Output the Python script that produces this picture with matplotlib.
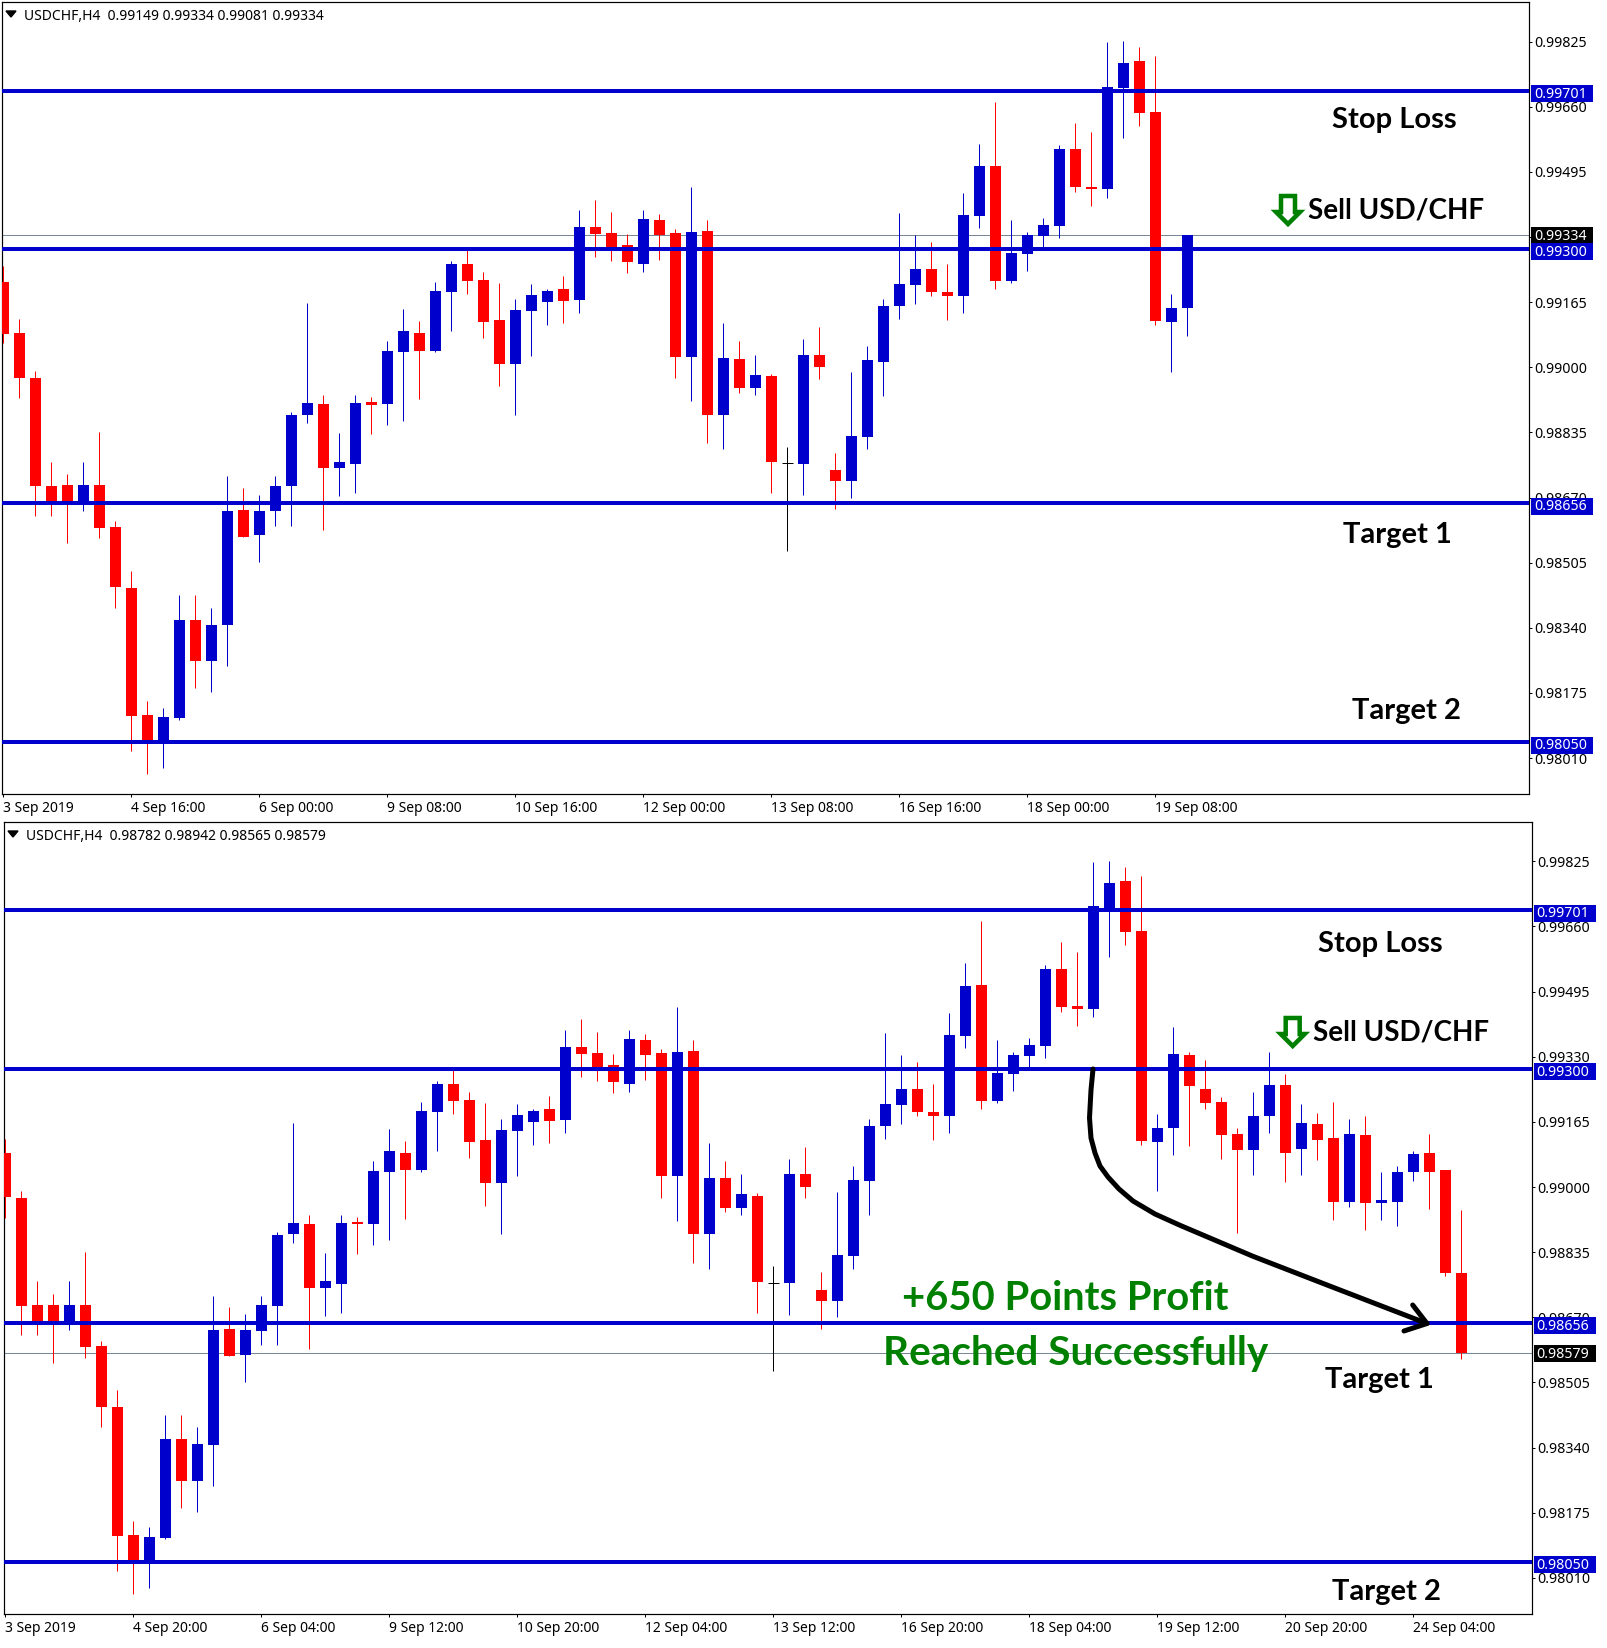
import matplotlib
matplotlib.use('Agg')
import matplotlib.pyplot as plt
from matplotlib.patches import Rectangle, Polygon

W, H = 1608, 1648

# USDCHF H4 bars
opens = [0.99216, 0.99087, 0.98973, 0.98700, 0.98702, 0.98656, 0.98702, 0.98596, 0.98442, 0.98118,
         0.98052, 0.98111, 0.98361, 0.98256, 0.98347, 0.98639, 0.98574, 0.98635, 0.98698, 0.98880,
         0.98907, 0.98744, 0.98754, 0.98912, 0.98906, 0.99039, 0.99087, 0.99042, 0.99191, 0.99261,
         0.99221, 0.99120, 0.99009, 0.99143, 0.99165, 0.99198, 0.99170, 0.99355, 0.99340, 0.99309,
         0.99261, 0.99372, 0.99340, 0.99027, 0.99345, 0.98880, 0.99022, 0.98948, 0.98978, 0.98758,
         0.98756, 0.99032, 0.98739, 0.98711, 0.98824, 0.99014, 0.99155, 0.99208, 0.99249, 0.99191,
         0.99181, 0.99383, 0.99511, 0.99218, 0.99287, 0.99332, 0.99357, 0.99552, 0.99458, 0.99451,
         0.99708, 0.99776, 0.99648, 0.99115, 0.99149, 0.99335, 0.99249, 0.99216, 0.99135, 0.99093,
         0.99179, 0.99259, 0.99096, 0.99160, 0.99123, 0.98962, 0.99132, 0.98959, 0.98962, 0.99039,
         0.99087, 0.99042, 0.98782]
highs = [0.99256, 0.99122, 0.98991, 0.98761, 0.98730, 0.98761, 0.98836, 0.98611, 0.98485, 0.98154,
         0.98138, 0.98422, 0.98422, 0.98391, 0.98725, 0.98695, 0.98677, 0.98725, 0.98887, 0.99163,
         0.98930, 0.98834, 0.98930, 0.98925, 0.99067, 0.99148, 0.99117, 0.99216, 0.99269, 0.99300,
         0.99241, 0.99213, 0.99173, 0.99211, 0.99198, 0.99231, 0.99398, 0.99425, 0.99393, 0.99337,
         0.99398, 0.99388, 0.99350, 0.99456, 0.99372, 0.99112, 0.99067, 0.99032, 0.98984, 0.98799,
         0.99072, 0.99102, 0.98784, 0.98988, 0.99054, 0.99173, 0.99390, 0.99335, 0.99317, 0.99261,
         0.99441, 0.99567, 0.99673, 0.99372, 0.99342, 0.99377, 0.99562, 0.99620, 0.99595, 0.99824,
         0.99827, 0.99812, 0.99789, 0.99186, 0.99405, 0.99342, 0.99322, 0.99229, 0.99150, 0.99241,
         0.99341, 0.99287, 0.99210, 0.99188, 0.99216, 0.99173, 0.99181, 0.99039, 0.99052, 0.99092,
         0.99135, 0.99044, 0.98942]
lows = [0.99061, 0.98921, 0.98624, 0.98624, 0.98554, 0.98637, 0.98567, 0.98391, 0.98027, 0.97969,
        0.97984, 0.98107, 0.98187, 0.98177, 0.98243, 0.98571, 0.98506, 0.98599, 0.98599, 0.98858,
        0.98589, 0.98673, 0.98682, 0.98831, 0.98854, 0.98865, 0.98920, 0.99039, 0.99092, 0.99186,
        0.99074, 0.98953, 0.98880, 0.99029, 0.99107, 0.99112, 0.99138, 0.99279, 0.99269, 0.99239,
        0.99241, 0.99271, 0.98973, 0.98915, 0.98807, 0.98792, 0.98936, 0.98930, 0.98681, 0.98534,
        0.98676, 0.98971, 0.98640, 0.98670, 0.98792, 0.98928, 0.99122, 0.99160, 0.99181, 0.99120,
        0.99138, 0.99352, 0.99198, 0.99213, 0.99244, 0.99300, 0.99327, 0.99443, 0.99408, 0.99430,
        0.99582, 0.99612, 0.99107, 0.98989, 0.99080, 0.99103, 0.99198, 0.99070, 0.98884, 0.99030,
        0.99137, 0.99012, 0.99030, 0.99068, 0.98917, 0.98949, 0.98891, 0.98917, 0.98901, 0.99014,
        0.98944, 0.98775, 0.98565]
closes = [0.99085, 0.98974, 0.98698, 0.98656, 0.98656, 0.98702, 0.98594, 0.98443, 0.98117, 0.98052,
          0.98113, 0.98361, 0.98256, 0.98348, 0.98637, 0.98571, 0.98637, 0.98700, 0.98879, 0.98910,
          0.98744, 0.98761, 0.98910, 0.98905, 0.99041, 0.99092, 0.99042, 0.99193, 0.99261, 0.99218,
          0.99115, 0.99009, 0.99145, 0.99183, 0.99193, 0.99168, 0.99355, 0.99337, 0.99302, 0.99266,
          0.99375, 0.99335, 0.99027, 0.99342, 0.98880, 0.99024, 0.98948, 0.98981, 0.98759, 0.98758,
          0.99032, 0.99001, 0.98711, 0.98827, 0.99019, 0.99155, 0.99211, 0.99249, 0.99191, 0.99181,
          0.99385, 0.99509, 0.99218, 0.99289, 0.99335, 0.99360, 0.99552, 0.99456, 0.99451, 0.99711,
          0.99771, 0.99645, 0.99117, 0.99150, 0.99336, 0.99255, 0.99213, 0.99133, 0.99093, 0.99181,
          0.99259, 0.99085, 0.99163, 0.99118, 0.98962, 0.99135, 0.98959, 0.98966, 0.99039, 0.99084,
          0.99039, 0.98783, 0.98579]

top_bars = 75      # upper chart stops at this bar
top_last_high = 0.99334
top_last_close = 0.99334

levels = [0.99701, 0.99300, 0.98656, 0.98050]
y_ticks = [0.99825, 0.99660, 0.99495, 0.99330, 0.99165, 0.99000, 0.98835, 0.98670, 0.98505, 0.98340, 0.98175, 0.98010]
top_dates = ['3 Sep 2019', '4 Sep 16:00', '6 Sep 00:00', '9 Sep 08:00', '10 Sep 16:00', '12 Sep 00:00',
             '13 Sep 08:00', '16 Sep 16:00', '18 Sep 00:00', '19 Sep 08:00']
bot_dates = ['3 Sep 2019', '4 Sep 20:00', '6 Sep 04:00', '9 Sep 12:00', '10 Sep 20:00', '12 Sep 04:00',
             '13 Sep 12:00', '16 Sep 20:00', '18 Sep 04:00', '19 Sep 12:00', '20 Sep 20:00', '24 Sep 04:00']

BLUE = '#0000CD'
RED = '#FF0000'
GREEN = '#008000'
PX = 72 / 100  # one pixel in points
UI = 'Noto Sans'
NOTE = 'Lato'

fig = plt.figure(figsize=(W / 100, H / 100), dpi=100)


def make_axes(left, top, right, bottom, x0, price_px, px_y_ref):
    ax = fig.add_axes([left / W, 1 - bottom / H, (right - left) / W, (bottom - top) / H])
    ax.set_xlim((left - x0) / 16, (right - x0) / 16)
    ax.set_ylim(0.99 + (px_y_ref - bottom) / price_px, 0.99 + (px_y_ref - top) / price_px)
    return ax


def draw_candles(ax, o, h, l, c):
    for i in range(len(o)):
        col = BLUE if c[i] > o[i] else RED
        if c[i] == o[i]:  # doji
            ax.vlines(i, l[i], h[i], color='black', lw=PX, zorder=3)
            ax.hlines(o[i], i - 5.5 / 16, i + 5.5 / 16, color='black', lw=PX, zorder=3)
            continue
        ax.vlines(i, l[i], h[i], color=col, lw=PX, zorder=3)
        ax.bar(i, abs(c[i] - o[i]), bottom=min(o[i], c[i]), width=11 / 16, color=col, lw=0, zorder=3)


def finish(ax, dates, last_price):
    for lv in levels:
        ax.axhline(lv, color=BLUE, lw=4 * PX, zorder=5)
    ax.axhline(last_price, color='#778899', lw=PX, zorder=2)
    ax.yaxis.tick_right()
    ax.set_yticks(y_ticks)
    ax.set_yticklabels(['%.5f' % t for t in y_ticks], fontsize=10.2, fontfamily=UI)
    ax.set_xticks([8 * k for k in range(len(dates))])
    ax.set_xticklabels(dates, fontsize=10, fontfamily=UI, ha='left')
    ax.tick_params(axis='y', length=2.5, width=PX, pad=1.2, color='black')
    ax.tick_params(axis='x', length=2.5, width=PX, pad=2.2, color='black')
    for s in ax.spines.values():
        s.set_linewidth(PX * 1.2)


def price_box(ax, price, text, bg, shift=3):
    # label on the price scale, drawn over the tick labels
    tr = ax.get_yaxis_transform()
    px = (ax.get_ylim()[1] - ax.get_ylim()[0]) / (ax.get_position().height * H)
    box = Rectangle((1.0012, price - (shift + 8.5) * px), 62 / (ax.get_position().width * W), 17 * px, transform=tr,
                    facecolor=bg, edgecolor='none', clip_on=False, zorder=10)
    ax.add_patch(box)
    ax.text(1.0032, price - (shift + 0.5) * px, text, transform=tr, color='white', fontsize=10.2, fontfamily=UI,
            va='center', ha='left', clip_on=False, zorder=11)


def note(x, y, s, size=21, color='black'):
    fig.text(x / W, 1 - y / H, s, fontsize=size, color=color, family=NOTE, fontweight='bold', va='center', ha='left', zorder=20)


def sell_arrow(cx, tip_y):
    pts = [(cx - 7, tip_y - 31), (cx + 7, tip_y - 31), (cx + 7, tip_y - 15), (cx + 12, tip_y - 15), (cx, tip_y - 3),
           (cx - 12, tip_y - 15), (cx - 7, tip_y - 15)]
    pts = [(x / W, 1 - y / H) for x, y in pts]
    fig.add_artist(Polygon(pts, closed=True, transform=fig.transFigure, facecolor='white', edgecolor=GREEN,
                           lw=4.5 * PX, joinstyle='miter', zorder=20))


def header(ax_x, y, vals):
    tri = [(ax_x, y - 2), (ax_x + 10, y - 2), (ax_x + 5, y + 4)]
    fig.add_artist(Polygon([(a / W, 1 - b / H) for a, b in tri], transform=fig.transFigure, color='black', zorder=20))
    fig.text((ax_x + 18) / W, 1 - (y + 3) / H, 'USDCHF,H4  ' + ' '.join('%.5f' % v for v in vals), fontsize=10, family=UI,
             va='center', ha='left', zorder=20)


# upper chart
price_px = 39470.0
ax1 = make_axes(2.5, 2.3, 1529.3, 794.3, 3.33, price_px, 367.3)
o1 = opens[:top_bars]
h1 = highs[:top_bars - 1] + [top_last_high]
l1 = lows[:top_bars]
c1 = closes[:top_bars - 1] + [top_last_close]
draw_candles(ax1, o1, h1, l1, c1)
finish(ax1, top_dates, 0.99334)
price_box(ax1, 0.99334, '0.99334', 'black', 0.5)
for lv in levels:
    price_box(ax1, lv, '%.5f' % lv, BLUE)

# lower chart starts one bar later
ax2 = make_axes(4.3, 822.3, 1531.7, 1614.3, 5.3, price_px, 1187.0)
draw_candles(ax2, opens[1:], highs[1:], lows[1:], closes[1:])
finish(ax2, bot_dates, 0.98579)
price_box(ax2, 0.98579, '0.98579', 'black', 0.5)
for lv in levels:
    price_box(ax2, lv, '%.5f' % lv, BLUE)

# text on the charts
note(1332, 120, 'Stop Loss')
note(1308, 211, 'Sell USD/CHF', size=20)
note(1343, 535, 'Target 1')
note(1352, 711, 'Target 2')
note(1318, 944, 'Stop Loss')
note(1313, 1032, 'Sell USD/CHF', size=20)
note(1325, 1380, 'Target 1')
note(1332, 1592, 'Target 2')
note(902, 1298, '+650 Points Profit', size=28.7, color=GREEN)
note(883, 1353, 'Reached Successfully', size=29.2, color=GREEN)

sell_arrow(1288, 227)
sell_arrow(1292.7, 1049)

header(6, 13, [0.99149, 0.99334, 0.99081, 0.99334])
header(8, 833, [0.98782, 0.98942, 0.98565, 0.98579])

# hand drawn arrow, lower chart
curve_x = [1093, 1091, 1089.5, 1091, 1095, 1100, 1108, 1119, 1133, 1155, 1180, 1253, 1333, 1427]
curve_y = [1069, 1090, 1118, 1138, 1153, 1166, 1177, 1189, 1201, 1214, 1225.3, 1256.3, 1287.3, 1323.5]
fig.add_artist(plt.Line2D([x / W for x in curve_x], [1 - y / H for y in curve_y], color='black', lw=5 * PX, zorder=20,
                          solid_capstyle='round', solid_joinstyle='round'))
head_x = [1412.7, 1427, 1404]
head_y = [1305, 1323.5, 1331]
fig.add_artist(plt.Line2D([x / W for x in head_x], [1 - y / H for y in head_y], color='black', lw=5 * PX, zorder=20,
                          solid_capstyle='round', solid_joinstyle='round'))

fig.savefig('out.png', dpi=100, facecolor='white')
